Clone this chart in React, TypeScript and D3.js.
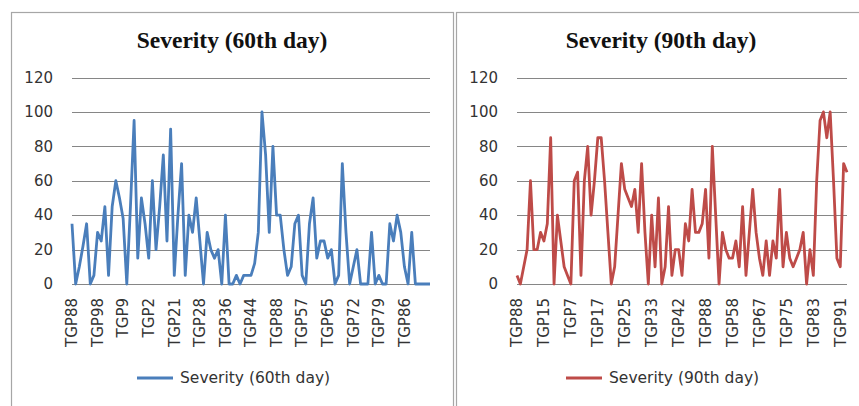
import { line, scaleLinear } from 'd3'

const WIDTH = 859
const HEIGHT = 406
const PLOT_TOP = 77.5
const PLOT_BOTTOM = 284
const SANS = '"DejaVu Sans", "Open Sans", sans-serif'

const yTicks = [0, 20, 40, 60, 80, 100, 120]

// severity at 60 days, one value per genotype in chart order
const severity60 = [
  35, 0, 10, 22, 35, 0, 5, 30, 25, 45, 5, 45, 60, 50, 38, 0, 45, 95, 15, 50,
  35, 15, 60, 20, 45, 75, 25, 90, 5, 40, 70, 5, 40, 30, 50, 25, 0, 30, 20, 15,
  20, 0, 40, 0, 0, 5, 0, 5, 5, 5, 12, 30, 100, 75, 30, 80, 40, 40, 20, 5,
  10, 35, 40, 5, 0, 35, 50, 15, 25, 25, 15, 20, 0, 5, 70, 30, 0, 10, 20, 0,
  0, 0, 30, 0, 5, 0, 0, 35, 25, 40, 30, 10, 0, 30, 0, 0, 0, 0, 0,
]
const labels60 = [
  'TGP88', 'TGP98', 'TGP9', 'TGP2', 'TGP21', 'TGP28', 'TGP36',
  'TGP44', 'TGP88', 'TGP57', 'TGP65', 'TGP72', 'TGP79', 'TGP86',
]

// severity at 90 days
const severity90 = [
  5, 0, 10, 20, 60, 20, 20, 30, 25, 35, 85, 0, 40, 25, 10, 5, 0, 60, 65, 5,
  60, 80, 40, 60, 85, 85, 60, 30, 0, 10, 40, 70, 55, 50, 45, 55, 30, 70, 30, 0,
  40, 10, 50, 0, 10, 45, 5, 20, 20, 5, 35, 25, 55, 30, 30, 35, 55, 15, 80, 40,
  0, 30, 20, 15, 15, 25, 10, 45, 5, 30, 55, 30, 15, 5, 25, 5, 25, 15, 55, 10,
  30, 15, 10, 15, 20, 30, 0, 20, 5, 60, 95, 100, 85, 100, 60, 15, 10, 70, 65,
]
const labels90 = [
  'TGP88', 'TGP15', 'TGP7', 'TGP17', 'TGP25', 'TGP33', 'TGP42',
  'TGP88', 'TGP58', 'TGP67', 'TGP75', 'TGP83', 'TGP91',
]

type PanelProps = {
  frameX: number
  frameWidth: number
  title: string
  values: number[]
  labels: string[]
  labelStep: number
  plotLeft: number
  plotRight: number
  color: string
  legend: string
}

function Panel({
  frameX,
  frameWidth,
  title,
  values,
  labels,
  labelStep,
  plotLeft,
  plotRight,
  color,
  legend,
}: PanelProps) {
  const xScale = scaleLinear()
    .domain([0, values.length - 1])
    .range([plotLeft, plotRight])
  const yScale = scaleLinear().domain([0, 120]).range([PLOT_BOTTOM, PLOT_TOP])

  const severityLine = line<number>()
    .x((_: number, index: number) => xScale(index))
    .y((value) => yScale(value))

  const center = frameX + frameWidth / 2
  const legendX = center - 95

  return (
    <g>
      <rect
        x={frameX + 0.5}
        y={12.5}
        width={frameWidth}
        height={HEIGHT}
        fill="#fff"
        stroke="#a6a6a6"
        strokeWidth={1.2}
      />
      <text
        x={center}
        y={48}
        textAnchor="middle"
        fontFamily='"Liberation Serif", "Times New Roman", serif'
        fontWeight="bold"
        fontSize={23.5}
        fill="#111"
      >
        {title}
      </text>
      {yTicks.map((tick) => (
        <g key={tick}>
          <line
            x1={plotLeft}
            x2={plotRight}
            y1={Math.round(yScale(tick)) + 0.5}
            y2={Math.round(yScale(tick)) + 0.5}
            stroke="#868686"
            strokeWidth={1}
          />
          <text
            x={plotLeft - 19}
            y={yScale(tick)}
            dy="0.35em"
            textAnchor="end"
            fontFamily={SANS}
            fontSize={15}
            fill="#333"
          >
            {tick}
          </text>
        </g>
      ))}
      {labels.map((label, index) => {
        const x = xScale(index * labelStep)
        return (
          <text
            key={index}
            transform={`translate(${x},298) rotate(-90)`}
            dy="0.35em"
            textAnchor="end"
            fontFamily={SANS}
            fontSize={15}
            fill="#333"
          >
            {label}
          </text>
        )
      })}
      <path
        d={severityLine(values) ?? ''}
        fill="none"
        stroke={color}
        strokeWidth={2.8}
        strokeLinejoin="round"
      />
      <line x1={legendX} x2={legendX + 36} y1={378} y2={378} stroke={color} strokeWidth={2.8} />
      <text
        x={legendX + 43}
        y={378}
        dy="0.35em"
        fontFamily={SANS}
        fontSize={15.5}
        fill="#333"
      >
        {legend}
      </text>
    </g>
  )
}

export default function App() {
  return (
    <svg
      width={WIDTH}
      height={HEIGHT}
      viewBox={`0 0 ${WIDTH} ${HEIGHT}`}
      style={{ position: 'absolute', left: 0, top: 0, background: '#fff' }}
    >
      <Panel
        frameX={11}
        frameWidth={442}
        title="Severity (60th day)"
        values={severity60}
        labels={labels60}
        labelStep={7}
        plotLeft={72}
        plotRight={430}
        color="#4a7ebb"
        legend="Severity (60th day)"
      />
      <Panel
        frameX={456}
        frameWidth={410}
        title="Severity (90th day)"
        values={severity90}
        labels={labels90}
        labelStep={8}
        plotLeft={517}
        plotRight={847}
        color="#be4b48"
        legend="Severity (90th day)"
      />
    </svg>
  )
}
